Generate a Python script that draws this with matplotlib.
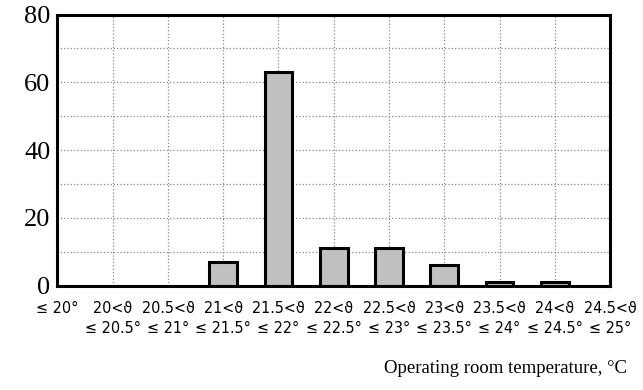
import matplotlib
matplotlib.use("Agg")
import matplotlib.pyplot as plt
import matplotlib.transforms as mtransforms
from matplotlib import font_manager
from matplotlib.ticker import MultipleLocator

# ── data ─────────────────────────────────────────────────────────────────────

lower = ["", "20", "20.5", "21", "21.5", "22", "22.5", "23", "23.5", "24", "24.5"]
upper = ["20", "20.5", "21", "21.5", "22", "22.5", "23", "23.5", "24", "24.5", "25"]
counts = [0, 0, 0, 7, 63, 11, 11, 6, 1, 1, 0]

labels = []
for lo, hi in zip(lower, upper):
    if lo:
        labels.append(f"{lo}<\u03d1\n\u2264 {hi}°")
    else:
        labels.append(f"\u2264 {hi}°")

# narrow regular font for the tick labels, if one is around
cond = [f for f in font_manager.fontManager.ttflist
        if ("Condensed" in f.fname or "Narrow" in f.fname)
        and "Sans" in f.name and "Mono" not in f.name
        and f.weight in (400, "normal", "regular") and f.style == "normal"]
cond.sort(key=lambda f: len(f.fname))
print("picked:", [c.fname for c in cond][:5])

# ── chart ────────────────────────────────────────────────────────────────────

fig = plt.figure(figsize=(6.43, 3.9), dpi=100)
ax = fig.add_axes([0.0894, 0.2674, 0.8593, 0.6954])

x = list(range(len(counts)))
ax.bar(x, counts, width=0.5, color="#c0c0c0", edgecolor="black", linewidth=2.2, zorder=3)

ax.set_xlim(0, len(counts) - 1)
ax.set_ylim(0, 80)
ax.set_xticks(x)
ax.set_xticklabels(labels, linespacing=1.4, va="top")
for t in ax.get_xticklabels():
    if cond:
        t.set_fontproperties(font_manager.FontProperties(fname=cond[0].fname, size=11.5))
    else:
        t.set_fontsize(9.5)
# first label sits a little right of the spine
first = ax.get_xticklabels()[0]
first.set_transform(first.get_transform() +
                    mtransforms.ScaledTranslation(7 / 100, 0, fig.dpi_scale_trans))

ax.yaxis.set_major_locator(MultipleLocator(20))
ax.yaxis.set_minor_locator(MultipleLocator(10))
for t in ax.get_yticklabels():
    t.set_family("Liberation Serif")
    t.set_fontsize(19)

ax.tick_params(axis="both", which="both", length=0)
ax.tick_params(axis="x", pad=11)
ax.tick_params(axis="y", pad=5)
ax.grid(True, which="both", axis="y", linestyle=":", color="#888888", linewidth=0.9)
ax.grid(True, which="major", axis="x", linestyle=":", color="#888888", linewidth=0.9)
ax.set_axisbelow(True)

for s in ax.spines.values():
    s.set_linewidth(2.2)
    s.set_zorder(4)

fig.text(0.975, 0.056, "Operating room temperature, °C", ha="right", va="center",
         family="Liberation Serif", fontsize=13.5)

fig.savefig("out.png", dpi=100)
